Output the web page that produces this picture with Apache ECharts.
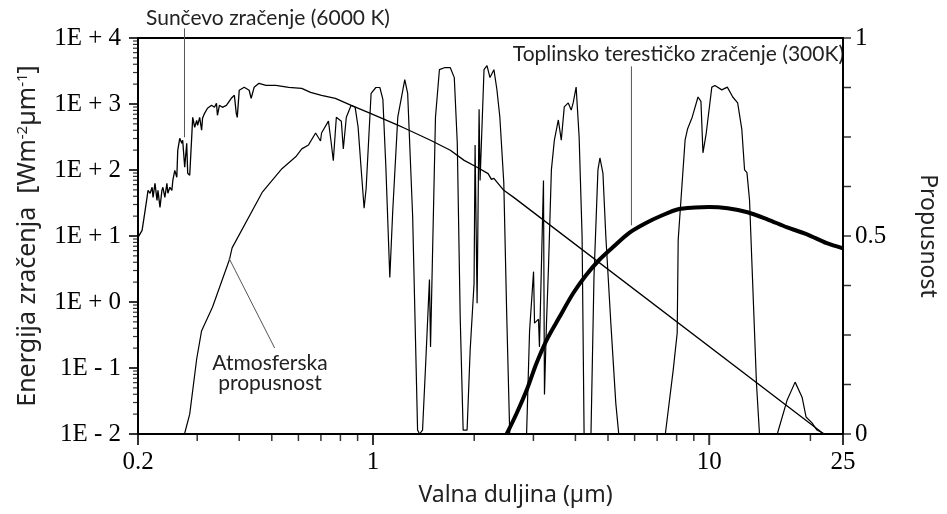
<!DOCTYPE html>
<html>
<head>
<meta charset="utf-8">
<title>Sunčevo i terestičko zračenje</title>
<script src="https://cdn.jsdelivr.net/npm/echarts@6/dist/echarts.min.js"></script>
<style>
  html, body { margin: 0; padding: 0; background: #fff; }
  #chart { width: 947px; height: 514px; }
</style>
</head>
<body>
<div id="chart"></div>
<script>
// Sunčevo zračenje (6000 K) – valna duljina [µm] / energija [W m-2 µm-1]
var solarWavelength = [0.2, 0.2057, 0.21, 0.2128, 0.2142, 0.2173, 0.2203, 0.2217, 0.2247, 0.2278, 0.2293, 0.2325, 0.2356,
  0.2372, 0.2404, 0.2438, 0.2454, 0.2488, 0.2522, 0.2539, 0.2573, 0.2609, 0.2626, 0.2662, 0.2699, 0.2716, 0.2754, 0.2792,
  0.2811, 0.285, 0.2889, 0.2909, 0.2949, 0.2989, 0.3009, 0.3051, 0.3092, 0.3112, 0.3155, 0.3219, 0.3309, 0.3377, 0.3423,
  0.3446, 0.3493, 0.3565, 0.3663, 0.3789, 0.3869, 0.392, 0.3947, 0.4001, 0.4139, 0.4282, 0.4341, 0.443, 0.4581, 0.4804,
  0.5142, 0.5616, 0.6135, 0.6521, 0.7027, 0.7727, 0.8615, 0.9667, 1.185, 1.2427, 1.4825, 1.698, 1.8667, 2.0394, 2.2,
  2.25, 2.2887, 2.449, 2.6214, 21.93];
var solarEnergy = [9.55, 12.2, 24.5, 38.5, 49.2, 44.4, 54.7, 38.5, 62.8, 34.7, 49.2, 27.2, 49.2,
  54.7, 38.5, 62.8, 44.4, 54.7, 49.2, 69.8, 98.9, 77.4, 199, 302, 254, 282, 110, 254,
  89, 83.2, 313, 628, 444, 566, 475, 628, 400, 607, 723, 861, 955, 891, 1026,
  675, 955, 891, 955, 1219, 1355, 723, 628, 1614, 1791, 1614, 1219, 1791, 2061, 1919,
  1919, 1791, 1730, 1503, 1355, 1219, 955, 748, 480, 429, 282, 199, 140, 110, 88,
  72, 74.8, 49.2, 38.5, 0.01];

// Toplinsko terestičko zračenje (300 K)
var earthWavelength = [2.499, 2.675, 2.863, 3.064, 3.281, 3.583, 3.939, 4.301, 4.699, 5.168, 5.759, 6.464, 7.254,
  8.086, 9.075, 9.98, 11.35, 13.0, 14.89, 17.06, 19.54, 22.38, 25];
var earthEnergy = [0.01, 0.0206, 0.0459, 0.118, 0.263, 0.586, 1.355, 2.54, 4.29, 6.75, 11.0, 15.6, 20.6,
  25.4, 27.0, 27.5, 26.3, 22.9, 17.9, 13.5, 10.6, 7.77, 6.5];

// Atmosferska propusnost (0 – 1)
var transWavelength = [0.2, 0.275, 0.285, 0.299, 0.309, 0.333, 0.374, 0.381, 0.468, 0.536, 0.589, 0.614, 0.643, 0.675,
  0.698, 0.703, 0.737, 0.75, 0.762, 0.778, 0.805, 0.816, 0.833, 0.861, 0.885, 0.903, 0.922, 0.941, 0.954, 0.987, 1.02,
  1.048, 1.07, 1.092, 1.122, 1.145, 1.185, 1.243, 1.268, 1.312, 1.357, 1.375, 1.404, 1.433, 1.472, 1.483, 1.503, 1.534,
  1.576, 1.63, 1.698, 1.745, 1.781, 1.817, 1.854, 1.905, 1.945, 1.998, 2.012, 2.04, 2.068, 2.082, 2.139, 2.183, 2.228,
  2.289, 2.336, 2.384, 2.449, 2.499, 2.551, 2.863, 2.922, 3.003, 3.023, 3.106, 3.127, 3.214, 3.236, 3.281, 3.326, 3.393,
  3.463, 3.558, 3.631, 3.706, 3.808, 3.886, 3.939, 4.02, 4.103, 4.187, 4.245, 4.45, 4.542, 4.667, 4.731, 4.829, 4.928,
  5.098, 5.274, 5.382, 7.404, 7.816, 8.031, 8.086, 8.479, 8.62, 8.9, 9.262, 9.45, 9.581, 9.8, 10.18, 10.4, 10.9, 11.32,
  11.75, 12.15, 12.5, 12.74, 12.95, 13.18, 13.82, 14.11, 15.94, 17.06, 18.01, 18.89, 19.41, 20.22, 20.92, 22, 25];
var transValue = [0, 0, 0.05, 0.19, 0.26, 0.32, 0.44, 0.47, 0.61, 0.67, 0.70, 0.72, 0.73, 0.76,
  0.74, 0.76, 0.79, 0.74, 0.69, 0.80, 0.79, 0.72, 0.80, 0.83, 0.825, 0.775, 0.67, 0.57, 0.62, 0.86, 0.875,
  0.875, 0.845, 0.675, 0.395, 0.565, 0.80, 0.895, 0.86, 0.55, 0.01, 0, 0.01, 0.17, 0.39, 0.22, 0.45, 0.80,
  0.92, 0.925, 0.925, 0.90, 0.735, 0.295, 0.01, 0.01, 0.21, 0.38, 0.73, 0.33, 0.82, 0.64, 0.92, 0.93, 0.90,
  0.92, 0.87, 0.80, 0.635, 0.30, 0, 0, 0.26, 0.41, 0.28, 0.29, 0.22, 0.64, 0.10, 0.28, 0.42, 0.667,
  0.742, 0.793, 0.742, 0.826, 0.836, 0.818, 0.836, 0.876, 0.75, 0.50, 0, 0, 0.396, 0.667, 0.697, 0.659, 0.497,
  0.28, 0.078, 0, 0, 0.162, 0.255, 0.49, 0.743, 0.77, 0.80, 0.851, 0.84, 0.71, 0.76, 0.876, 0.88, 0.869, 0.876,
  0.851, 0.836, 0.77, 0.667, 0.66, 0.591, 0.129, 0, 0, 0.086, 0.131, 0.093, 0.043, 0.028, 0.01, 0, 0];

// oznake (pokazne linije)
var sunLeader = [[0.275, 14000], [0.275, 313]];
var earthLeader = [[5.87, 3720], [5.87, 14.5]];
var transLeader = [[0.373, 0.444], [0.51, 0.217]];

// podjele osi
var xMajorTicks = [0.2, 1, 10, 25];
var xMinorTicks = [0.3, 0.4, 0.5, 0.6, 0.7, 0.8, 0.9, 2, 3, 4, 5, 6, 7, 8, 9, 20];
var yMajorTicks = [0.01, 0.1, 1, 10, 100, 1000, 10000];
var rightTicks = [0, 0.125, 0.25, 0.375, 0.5, 0.625, 0.75, 0.875, 1];
var rightLabels = [0, 0.5, 1];

var yMinorTicks = [];
for (var i = 0; i < yMajorTicks.length - 1; i++) {
  for (var k = 2; k <= 9; k++) yMinorTicks.push(+(yMajorTicks[i] * k).toPrecision(3));
}

var xMin = 0.2, xMax = 25, yMin = 0.01, yMax = 10000;

function pairs(xs, ys) {
  return xs.map(function (x, i) { return [x, ys[i]]; });
}

// crtica podjele kao simbol (na osi, kroz skalu osi)
function tickSeries(data, yAxisIndex, size, offset, width) {
  return {
    type: 'scatter', xAxisIndex: 0, yAxisIndex: yAxisIndex, data: data,
    symbol: 'rect', symbolSize: size, symbolOffset: offset, clip: false, silent: true, z: 5,
    itemStyle: { color: '#000' }
  };
}

var serif = 'Liberation Serif';
var sans = 'Noto Sans';
var noteFont = 'Lato';

var chart = echarts.init(document.getElementById('chart'));
var option = {
  animation: false,
  backgroundColor: '#fff',
  grid: {
    left: 138, right: 97, top: 38, bottom: 80,
    show: true, borderColor: '#000', borderWidth: 2
  },
  xAxis: {
    type: 'log', min: xMin, max: xMax, position: 'bottom',
    name: 'Valna duljina (µm)', nameLocation: 'middle', nameGap: 50,
    nameTextStyle: { fontFamily: sans, fontSize: 23, color: '#222', padding: [0, 0, 0, 50] },
    axisLine: { show: true, onZero: false, lineStyle: { color: '#000', width: 2 } },
    axisTick: { show: false },
    axisLabel: {
      customValues: xMajorTicks, margin: 16, fontFamily: serif, fontSize: 25, color: '#000',
      formatter: function (v) { return String(Math.round(v * 10) / 10); }
    },
    splitLine: { show: false }
  },
  yAxis: [
    {
      type: 'log', min: yMin, max: yMax, position: 'left',
      name: 'Energija zračenja  [Wm{s|-2}µm{s|-1}]', nameLocation: 'middle', nameGap: 98,
      nameTextStyle: {
        fontFamily: sans, fontSize: 25, color: '#222',
        rich: { s: { fontFamily: sans, fontSize: 15, color: '#222', verticalAlign: 'top' } }
      },
      axisLine: { show: true, lineStyle: { color: '#000', width: 2 } },
      axisTick: { show: false },
      axisLabel: {
        customValues: yMajorTicks, margin: 17, fontFamily: serif, fontSize: 25, color: '#000',
        formatter: function (v) {
          var e = Math.round(Math.log10(v));
          return '1E ' + (e < 0 ? '- ' : '+ ') + Math.abs(e);
        }
      },
      splitLine: { show: false }
    },
    {
      type: 'value', min: 0, max: 1, interval: 0.125, position: 'right',
      name: 'Propusnost', nameLocation: 'middle', nameGap: 73, nameRotate: -90,
      nameTextStyle: { fontFamily: sans, fontSize: 23, color: '#222' },
      axisLine: { show: true, lineStyle: { color: '#000', width: 2 } },
      axisTick: { show: false },
      axisLabel: {
        customValues: rightLabels, margin: 12, fontFamily: serif, fontSize: 25, color: '#000',
        formatter: function (v) { return String(v); }
      },
      splitLine: { show: false }
    }
  ],
  series: [
    {
      name: 'Sunčevo zračenje (6000 K)', type: 'line', yAxisIndex: 0,
      data: pairs(solarWavelength, solarEnergy), showSymbol: false,
      lineStyle: { color: '#000', width: 1.3 }
    },
    {
      name: 'Toplinsko terestičko zračenje (300K)', type: 'line', yAxisIndex: 0,
      data: pairs(earthWavelength, earthEnergy), showSymbol: false, smooth: 0.3,
      lineStyle: { color: '#000', width: 4 }
    },
    {
      name: 'Atmosferska propusnost', type: 'line', yAxisIndex: 1,
      data: pairs(transWavelength, transValue), showSymbol: false,
      lineStyle: { color: '#000', width: 1.2 }
    },
    {
      type: 'line', yAxisIndex: 0, data: sunLeader, showSymbol: false, clip: false,
      lineStyle: { color: '#555', width: 1 }, silent: true
    },
    {
      type: 'line', yAxisIndex: 0, data: earthLeader, showSymbol: false,
      lineStyle: { color: '#555', width: 1 }, silent: true
    },
    {
      type: 'line', yAxisIndex: 1, data: transLeader, showSymbol: false,
      lineStyle: { color: '#555', width: 1 }, silent: true
    },
    // podjele osi
    tickSeries(xMajorTicks.map(function (v) { return [v, yMin]; }), 0, [2, 11], [0, 5.5]),
    tickSeries(xMinorTicks.map(function (v) { return [v, yMin]; }), 0, [1.5, 7], [0, 3.5]),
    tickSeries(yMajorTicks.map(function (v) { return [xMin, v]; }), 0, [9, 2], [-4.5, 0]),
    tickSeries(yMinorTicks.map(function (v) { return [xMin, v]; }), 0, [5, 1.2], [-2.5, 0]),
    tickSeries(rightTicks.map(function (v) { return [xMax, v]; }), 1, [8, 1.5], [4, 0])
  ],
  graphic: [
    {
      type: 'text', x: 146, y: 18,
      style: { text: 'Sunčevo zračenje (6000 K)', fontFamily: noteFont, fontSize: 21, fill: '#222', verticalAlign: 'middle' }
    },
    {
      type: 'text', x: 844, y: 54,
      style: { text: 'Toplinsko terestičko zračenje (300K)', fontFamily: noteFont, fontSize: 21, fill: '#222', align: 'right', verticalAlign: 'middle' }
    },
    {
      type: 'text', x: 270, y: 373,
      style: { text: 'Atmosferska\npropusnost', fontFamily: noteFont, fontSize: 21, fill: '#222', align: 'center', verticalAlign: 'middle', lineHeight: 20 }
    }
  ]
};
chart.setOption(option);
</script>
</body>
</html>
